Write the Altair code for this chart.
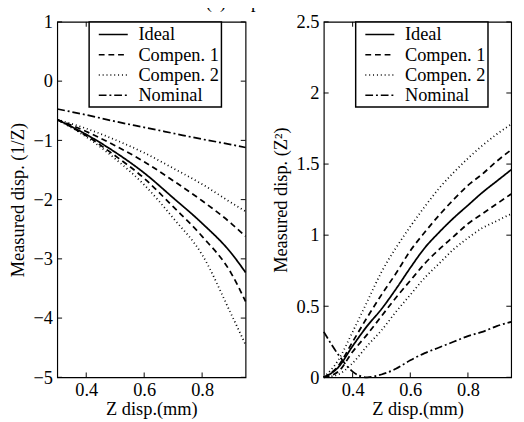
import altair as alt
import pandas as pd

# ---------------- data ----------------
series_names = ["Ideal", "Compen. 1", "Compen. 2", "Nominal"]

# left panel: Measured disp. (1/Z)
x_left = [0.30, 0.40, 0.50, 0.60, 0.70, 0.80, 0.90, 0.95]
ideal_l = [-0.65, -0.90, -1.20, -1.55, -1.97, -2.40, -2.90, -3.23]
comp1_up_l = [-0.65, -0.85, -1.09, -1.36, -1.68, -2.02, -2.40, -2.62]
comp1_lo_l = [-0.65, -0.92, -1.26, -1.64, -2.12, -2.62, -3.24, -3.72]
comp2_up_l = [-0.65, -0.80, -0.99, -1.21, -1.47, -1.74, -2.05, -2.20]
comp2_lo_l = [-0.65, -0.94, -1.31, -1.75, -2.31, -2.93, -3.93, -4.45]
nominal_l = [-0.47, -0.57, -0.68, -0.78, -0.88, -0.98, -1.07, -1.12]

# right panel: Measured disp. (Z^2)
x_right = [0.30, 0.35, 0.40, 0.45, 0.50, 0.55, 0.60, 0.65, 0.70, 0.75, 0.80, 0.85, 0.90, 0.95]
ideal_r = [0.00, 0.07, 0.22, 0.36, 0.48, 0.62, 0.77, 0.91, 1.02, 1.12, 1.21, 1.30, 1.38, 1.46]
comp1_up_r = [0.00, 0.08, 0.25, 0.42, 0.58, 0.73, 0.89, 1.02, 1.14, 1.25, 1.35, 1.43, 1.52, 1.60]
comp1_lo_r = [0.00, 0.04, 0.18, 0.30, 0.43, 0.56, 0.68, 0.80, 0.90, 0.99, 1.08, 1.15, 1.22, 1.29]
comp2_up_r = [0.00, 0.12, 0.32, 0.53, 0.74, 0.91, 1.06, 1.20, 1.33, 1.44, 1.54, 1.63, 1.71, 1.78]
comp2_lo_r = [0.00, 0.02, 0.10, 0.22, 0.33, 0.46, 0.58, 0.70, 0.80, 0.90, 0.98, 1.05, 1.10, 1.15]
nominal_r = [0.32, 0.16, 0.04, 0.00, 0.02, 0.06, 0.12, 0.17, 0.21, 0.25, 0.29, 0.32, 0.36, 0.39]

x_ticks = [0.4, 0.6, 0.8]
y_ticks_left = [1, 0, -1, -2, -3, -4, -5]
y_ticks_right = [0, 0.5, 1, 1.5, 2, 2.5]
fig_title = "(c) Experiment"

# ---------------- build tables ----------------
def table(xs, curves):
    rows = []
    for name, curve_id, ys in curves:
        for xv, yv in zip(xs, ys):
            rows.append({"x": xv, "y": yv, "series": name, "curve": curve_id})
    return pd.DataFrame(rows)

df_left = table(x_left, [
    ("Ideal", "i", ideal_l),
    ("Compen. 1", "c1u", comp1_up_l),
    ("Compen. 1", "c1l", comp1_lo_l),
    ("Compen. 2", "c2u", comp2_up_l),
    ("Compen. 2", "c2l", comp2_lo_l),
    ("Nominal", "n", nominal_l),
])
df_right = table(x_right, [
    ("Ideal", "i", ideal_r),
    ("Compen. 1", "c1u", comp1_up_r),
    ("Compen. 1", "c1l", comp1_lo_r),
    ("Compen. 2", "c2u", comp2_up_r),
    ("Compen. 2", "c2l", comp2_lo_r),
    ("Nominal", "n", nominal_r),
])

W, H = 195, 368
FONT = "Liberation Serif"
dash_range = [[1, 0], [6, 4], [1, 3], [8, 3, 2, 3]]


def panel(df, ydomain, yticks, ytitle, yformat, width, with_title=False):
    xs = alt.Scale(domain=[0.3, 0.95], nice=False, zero=False)
    ys = alt.Scale(domain=ydomain, nice=False, zero=False)
    xaxis = alt.Axis(values=x_ticks, format=".1f", ticks=False, domain=False,
                     grid=False, labelPadding=4, titlePadding=0)
    yaxis = alt.Axis(values=yticks, format=yformat, ticks=False, domain=False,
                     grid=False, labelPadding=5, titlePadding=6)
    xtitle = "Z disp.(mm)"
    lines = alt.Chart(df).mark_line(color="black", interpolate="monotone").encode(
        x=alt.X("x:Q", scale=xs, title=xtitle, axis=xaxis),
        y=alt.Y("y:Q", scale=ys, title=ytitle, axis=yaxis),
        strokeDash=alt.StrokeDash("series:N",
                                  scale=alt.Scale(domain=series_names, range=dash_range),
                                  legend=alt.Legend(title=None, orient="none",
                                                    legendX=33, legendY=0,
                                                    labelExpr="datum.label + '\u00a0\u00a0'")),
        strokeWidth=alt.StrokeWidth("series:N",
                                    scale=alt.Scale(domain=series_names, range=[1.8, 1.8, 1.1, 1.5]),
                                    legend=None),
        detail="curve:N",
    )
    tx = pd.DataFrame({"x": x_ticks})
    ty = pd.DataFrame({"y": yticks})
    bot = alt.Chart(tx).mark_rule(color="black").encode(
        x=alt.X("x:Q", scale=xs, title=xtitle, axis=xaxis), y=alt.value(H), y2=alt.value(H - 5))
    top = alt.Chart(tx).mark_rule(color="black").encode(
        x=alt.X("x:Q", scale=xs, title=xtitle, axis=xaxis), y=alt.value(0), y2=alt.value(5))
    lft = alt.Chart(ty).mark_rule(color="black").encode(
        y=alt.Y("y:Q", scale=ys, title=ytitle, axis=yaxis), x=alt.value(0), x2=alt.value(5))
    rgt = alt.Chart(ty).mark_rule(color="black").encode(
        y=alt.Y("y:Q", scale=ys, title=ytitle, axis=yaxis), x=alt.value(width), x2=alt.value(width - 5))
    layers = [lines, bot, top, lft, rgt]
    if with_title:
        ttl = alt.Chart(pd.DataFrame({"t": [fig_title]})).mark_text(
            font=FONT, fontSize=19, align="center", baseline="alphabetic", color="black"
        ).encode(x=alt.value(211), y=alt.value(-14), text="t:N")
        layers.append(ttl)
    return alt.layer(*layers).properties(width=width, height=H)


left = panel(df_left, [-5, 1], y_ticks_left, "Measured disp. (1/Z)", "d", W, with_title=True)
right = panel(df_right, [0, 2.5], y_ticks_right, "Measured disp. (Z²)", "~g", 194)

chart = alt.hconcat(left, right, spacing=81, bounds="flush").resolve_legend(
    strokeDash="independent"
).properties(
    padding={"left": 0, "top": -23, "right": 0, "bottom": 0},
    background="white",
).configure_view(
    stroke="black", strokeWidth=1.2
).configure_axis(
    labelFont=FONT, labelFontSize=19, labelColor="black",
    titleFont=FONT, titleFontSize=19, titleFontWeight="normal", titleColor="black",
).configure_legend(
    labelFont=FONT, labelFontSize=19, labelColor="black",
    strokeColor="black", strokeWidth=1.5, fillColor="white", padding=2, cornerRadius=0,
    symbolType="M-1.5,0H1.5", symbolSize=400, symbolStrokeColor="black",
    symbolStrokeWidth=1.5, symbolOffset=12, labelOffset=15, rowPadding=0, labelLimit=200,
)

chart.save("out.html", embed_options={"renderer": "svg", "actions": False})
